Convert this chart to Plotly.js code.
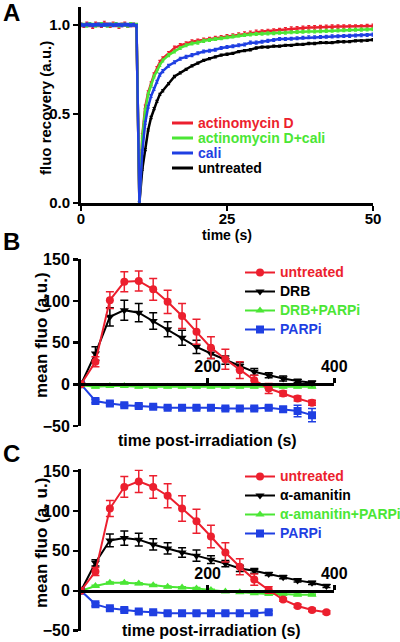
<!DOCTYPE html>
<html>
<head>
<meta charset="utf-8">
<script src="https://cdn.plot.ly/plotly-3.0.1.min.js"></script>
<style>html,body{margin:0;padding:0;background:#fff;}#chart{width:400px;height:642px;}</style>
</head>
<body>
<div id="chart"></div>
<script>
// ---------- Panel A : fluorescence recovery ----------
const timeA = [0,0.5,1,1.5,2,2.5,3,3.5,4,4.5,5,5.5,6,6.5,7,7.5,8,8.5,9,9.5,
  10,10.5,11,11.5,12,12.5,13,13.5,14,
  15,16,17,18,19,20,21,22,23,24,25,26,27,28,29,30,31,32,33,34,35,36,37,38,39,40,41,42,43,44,45,46,47,48,49,50];
const actinoD = [1.0,0.995,1.005,1.0,0.99,1.005,1.0,0.995,1.01,1.0,0.995,1.005,1.0,0.99,1.0,1.005,0.995,1.0,1.0,0.995,
  0,0.38,0.54,0.62,0.67,0.72,0.755,0.79,0.81,
  0.84,0.87,0.885,0.895,0.905,0.91,0.915,0.92,0.925,0.93,0.935,0.94,0.945,0.95,0.955,0.96,0.962,0.965,0.968,0.97,0.975,0.978,0.98,0.983,0.985,0.985,0.987,0.988,0.99,0.99,0.99,0.99,0.99,0.99,0.992,0.994];
const actinoDCali = [1.0,1.0,0.995,1.005,1.0,0.995,1.0,1.005,1.0,0.995,1.0,1.0,1.005,0.995,1.0,1.0,0.995,1.005,1.0,1.0,
  0,0.37,0.52,0.61,0.66,0.71,0.74,0.775,0.80,
  0.83,0.85,0.87,0.885,0.895,0.90,0.91,0.915,0.92,0.925,0.93,0.935,0.94,0.943,0.946,0.948,0.95,0.952,0.953,0.955,0.956,0.958,0.96,0.961,0.962,0.963,0.964,0.966,0.967,0.968,0.97,0.971,0.972,0.973,0.974,0.975];
const cali = [1.0,0.998,1.002,1.0,0.998,1.0,1.002,0.998,1.0,1.0,1.002,0.998,1.0,1.0,0.998,1.002,1.0,0.998,1.0,0.995,
  0,0.29,0.45,0.54,0.60,0.64,0.68,0.72,0.74,
  0.77,0.79,0.81,0.82,0.83,0.84,0.85,0.855,0.86,0.87,0.875,0.88,0.885,0.89,0.90,0.90,0.905,0.91,0.915,0.92,0.92,0.922,0.925,0.927,0.93,0.93,0.932,0.933,0.935,0.936,0.937,0.938,0.94,0.941,0.943,0.945];
const untreatedA = [1.0,1.0,1.0,1.0,1.0,1.0,1.0,1.0,1.0,1.0,1.0,1.0,1.0,1.0,1.0,1.0,1.0,1.0,1.0,1.0,
  0,0.19,0.30,0.41,0.48,0.53,0.57,0.61,0.63,
  0.67,0.71,0.73,0.75,0.77,0.785,0.80,0.81,0.82,0.83,0.835,0.84,0.85,0.855,0.86,0.87,0.875,0.875,0.88,0.88,0.885,0.885,0.89,0.89,0.895,0.895,0.90,0.90,0.90,0.905,0.905,0.906,0.91,0.91,0.913,0.916];
const namesA = ['actinomycin D','actinomycin D+cali','cali','untreated'];

// ---------- Panel B ----------
const timeB = [0,22.8,45.6,68.4,91.2,114,136.8,159.6,182.4,205.2,228,250.8,273.6,296.4,319.2,342,364.8];
const untreatedB = [0,27,101,123,124,114,99,82,63,44,30,17,5,-5,-11,-17,-22];
const untreatedBErr = [0,6,10,12,12,13,14,15,15,13,12,10,6,6,3,3,3];
const drbB = [0,37,81,89,86,76,66,56,45,37,29,22,15,11,7,4,2];
const drbBErr = [0,8,11,12,11,10,9,9,8,6,5,4,4,3,3,2,2];
const drbParpB = [-1,-3,-2,-2,-3,-3,-3,-3,-3,-3,-3,-3,-3,-3,-3,-3,-3];
const drbParpBErr = [0,1,1,1,1,1,1,1,1,1,1,1,1,1,1,1,1];
const parpB = [0,-20,-23,-25,-26,-27,-28,-28,-28,-28,-29,-29,-29,-28,-30,-32,-37];
const parpBErr = [0,2,2,2,2,2,2,2,2,2,2,2,2,2,3,7,8];
const namesB = ['untreated','DRB','DRB+PARPi','PARPi'];

// ---------- Panel C ----------
const timeC = [0,22.8,45.6,68.4,91.2,114,136.8,159.6,182.4,205.2,228,250.8,273.6,296.4,319.2,342,364.8,387.6];
const untreatedC = [0,24,103,130,137,130,119,103,87,68,48,30,14,1,-11,-19,-24,-27];
const untreatedCErr = [0,5,10,13,14,14,15,16,15,14,12,10,7,4,2,2,2,2];
const amanC = [0,35,63,66,64,58,53,48,44,39,34,28,25,21,17,13,10,6];
const amanCErr = [0,4,8,9,8,7,7,6,7,5,4,4,3,2,2,2,2,2];
const amanParpC = [0,6,10,10,9,7,5,4,3,1,-1,-2,-3,-4,-4,-5,-5];
const amanParpCErr = [0,1,1,1,1,1,1,1,1,1,1,1,1,1,1,1,1];
const parpC = [0,-17,-22,-24,-26,-27,-28,-28,-28,-28,-28,-28,-28,-27];
const parpCErr = [0,2,2,2,2,2,2,2,2,2,2,2,2,2];
const namesC = ['untreated','\u03b1-amanitin','\u03b1-amanitin+PARPi','PARPi'];

// ---------- styling ----------
const RED = '#ec1f2e', GREEN = '#4be635', BLUE = '#1f3fe2', BLACK = '#000000';
const FONT = 'Liberation Sans, Arial, Helvetica, sans-serif';
const W = 400, H = 642;
const fx = p => p / W;
const fy = p => 1 - p / H;

const traces = [];
function lineA(y, color, err) {
  traces.push({
    x: timeA, y: y, type: 'scatter', mode: 'lines', xaxis: 'x', yaxis: 'y', showlegend: false,
    line: {color: color, width: 2.5},
    error_y: {type: 'constant', value: err, color: color, thickness: 1.2, width: 1.5}
  });
}
lineA(untreatedA, BLACK, 0.006);
lineA(actinoD, RED, 0.01);
lineA(actinoDCali, GREEN, 0.008);
lineA(cali, BLUE, 0.008);

function lbl(name, color) {
  return '<span style="color:' + color + ';font-size:14px">' + name + '</span>';
}
function markTrace(x, y, err, color, symbol, name, ax, lg) {
  traces.push({
    x: x, y: y, type: 'scatter', mode: 'lines+markers', xaxis: 'x' + ax, yaxis: 'y' + ax,
    name: lbl(name, color), legend: lg,
    line: {color: color, width: 2},
    marker: {color: color, symbol: symbol, size: 8},
    error_y: {type: 'data', array: err, visible: true, color: color, thickness: 1.5, width: 4}
  });
}
// draw order: blue, green, black, red (red on top); legend reversed
markTrace(timeB, parpB, parpBErr, BLUE, 'square', namesB[3], 2, 'legend2');
markTrace(timeB, drbParpB, drbParpBErr, GREEN, 'triangle-up', namesB[2], 2, 'legend2');
markTrace(timeB, drbB, drbBErr, BLACK, 'triangle-down', namesB[1], 2, 'legend2');
markTrace(timeB, untreatedB, untreatedBErr, RED, 'circle', namesB[0], 2, 'legend2');

markTrace(timeC.slice(0, parpC.length), parpC, parpCErr, BLUE, 'square', namesC[3], 3, 'legend3');
markTrace(timeC.slice(0, amanParpC.length), amanParpC, amanParpCErr, GREEN, 'triangle-up', namesC[2], 3, 'legend3');
markTrace(timeC, amanC, amanCErr, BLACK, 'triangle-down', namesC[1], 3, 'legend3');
markTrace(timeC, untreatedC, untreatedCErr, RED, 'circle', namesC[0], 3, 'legend3');

const axBase = {
  showline: true, linewidth: 3, linecolor: '#000', mirror: false,
  ticks: 'outside', ticklen: 5, tickwidth: 2.5, tickcolor: '#000',
  showgrid: false, zeroline: false, fixedrange: true,
  tickfont: {family: FONT, size: 15, weight: 'bold', color: '#000'}
};
const bigTick = {family: FONT, size: 16, weight: 'bold', color: '#000'};

const layout = {
  width: W, height: H,
  margin: {l: 0, r: 0, t: 0, b: 0, autoexpand: false},
  paper_bgcolor: '#fff', plot_bgcolor: 'rgba(0,0,0,0)',
  font: {family: FONT, color: '#000'},
  showlegend: true,
  xaxis: Object.assign({}, axBase, {
    domain: [fx(81), fx(373)], range: [0, 50], anchor: 'y',
    tickvals: [0, 25, 50], ticklabelstandoff: -5,
    title: {text: 'time (s)', standoff: 3, font: {family: FONT, size: 14, weight: 'bold', color: '#000'}}
  }),
  yaxis: Object.assign({}, axBase, {
    domain: [fy(203), fy(7)], range: [0, 1.1], anchor: 'x',
    tickvals: [0, 0.5, 1], tickformat: '.1f'
  }),
  xaxis2: Object.assign({}, axBase, {
    domain: [fx(81), fx(334.3)], range: [0, 400], anchor: 'free', position: fy(384.3),
    side: 'top', tickvals: [200, 400], tickfont: bigTick
  }),
  yaxis2: Object.assign({}, axBase, {
    domain: [fy(426), fy(259.3)], range: [-50, 150], anchor: 'x2',
    tickvals: [-50, 0, 50, 100, 150], tickfont: bigTick
  }),
  xaxis3: Object.assign({}, axBase, {
    domain: [fx(81), fx(334.3)], range: [0, 400], anchor: 'free', position: fy(591),
    side: 'top', tickvals: [200, 400], tickfont: bigTick
  }),
  yaxis3: Object.assign({}, axBase, {
    domain: [fy(630.7), fy(469.4)], range: [-50, 152], anchor: 'x3',
    tickvals: [-50, 0, 50, 100, 150], tickfont: bigTick
  }),
  legend2: {x: fx(240), y: fy(258), xanchor: 'left', yanchor: 'top', traceorder: 'reversed',
    bgcolor: 'rgba(0,0,0,0)', borderwidth: 0, font: {family: FONT, size: 12, weight: 'bold'}},
  legend3: {x: fx(240), y: fy(462), xanchor: 'left', yanchor: 'top', traceorder: 'reversed',
    bgcolor: 'rgba(0,0,0,0)', borderwidth: 0, font: {family: FONT, size: 12, weight: 'bold'}},
  shapes: [],
  annotations: []
};

// Panel A legend (text + line samples)
const legA = [[namesA[0], RED, 123], [namesA[1], GREEN, 138], [namesA[2], BLUE, 153], [namesA[3], BLACK, 168]];
legA.forEach(function (e) {
  layout.shapes.push({type: 'line', xref: 'paper', yref: 'paper', x0: fx(172), x1: fx(193), y0: fy(e[2]), y1: fy(e[2]),
    line: {color: e[1], width: 3}});
  layout.annotations.push({text: e[0], xref: 'paper', yref: 'paper', x: fx(196), y: fy(e[2]), xanchor: 'left', yanchor: 'middle',
    showarrow: false, font: {family: FONT, size: 14, weight: 'bold', color: e[1]}});
});
// axis titles placed as text
function addText(t, x, y, size, angle) {
  layout.annotations.push({text: t, xref: 'paper', yref: 'paper', x: fx(x), y: fy(y), textangle: angle || 0,
    xanchor: 'center', yanchor: 'middle', showarrow: false, font: {family: FONT, size: size, weight: 'bold', color: '#000'}});
}
addText('fluo recovery (a.u.)', 45, 108, 15, -90);
addText('mean fluo (a.u.)', 41, 335, 17, -90);
addText('mean fluo (a. u.)', 41, 543, 17, -90);
addText('time post-irradiation (s)', 207.5, 440, 16);
addText('time post-irradiation (s)', 211, 630, 16);
// panel letters
addText('A', 11, 12, 24);
addText('B', 11, 242, 24);
addText('C', 11, 453, 24);

Plotly.newPlot('chart', traces, layout, {displayModeBar: false, staticPlot: true});
</script>
</body>
</html>
